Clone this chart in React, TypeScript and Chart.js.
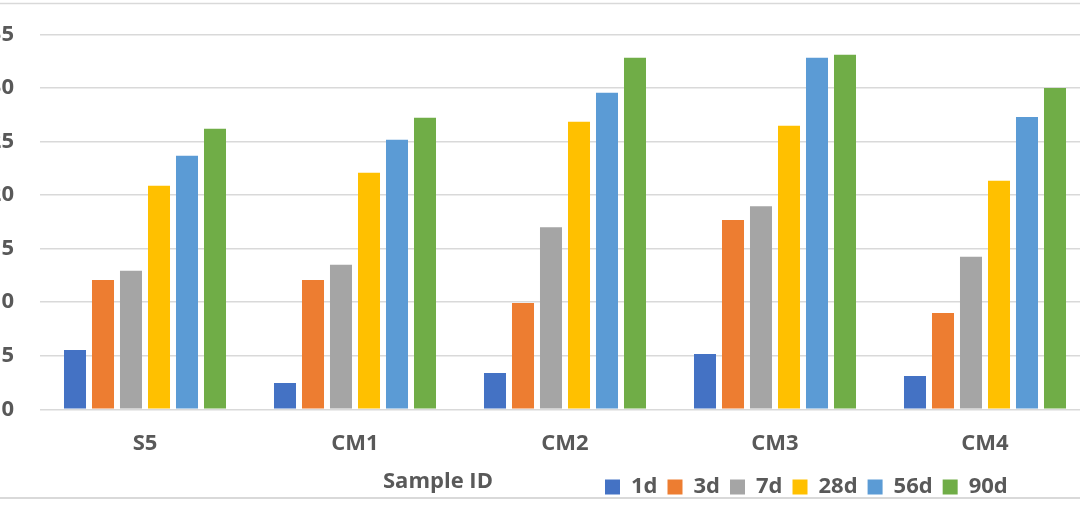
import React, { useEffect, useRef } from "react";
import { Chart, registerables } from "chart.js";

Chart.register(...registerables);

// Compressive strength by sample and curing age
const samples = ["S5", "CM1", "CM2", "CM3", "CM4"];
const ages = ["1d", "3d", "7d", "28d", "56d", "90d"];
const strength1d = [5.54, 2.46, 3.39, 5.17, 3.11];
const strength3d = [12.08, 12.08, 9.93, 17.67, 9.0];
const strength7d = [12.93, 13.49, 17.0, 18.96, 14.24];
const strength28d = [20.87, 22.08, 26.85, 26.47, 21.34];
const strength56d = [23.67, 25.17, 29.56, 32.83, 27.3];
const strength90d = [26.2, 27.23, 32.83, 33.11, 30.0];
const ageColors = ["#4472C4", "#ED7D31", "#A5A5A5", "#FFC000", "#5B9BD5", "#70AD47"];
const yMin = 0;
const yMax = 35;
const yStep = 5;
const xTitle = "Sample ID";

const FONT_FAMILY = "'Open Sans'";
const FONT_SIZE = 22;
const TEXT_COLOR = "#595959";
const GRID_COLOR = "#d9d9d9";

const CANVAS_W = 1116;
const CANVAS_H = 516;
const CANVAS_SHIFT = 26;

const frameAndTitle = {
  id: "frameAndTitle",
  afterLayout(chart: any) {
    const lg = chart.legend;
    if (lg) {
      const w = lg.width;
      const h = lg.height;
      lg.left = 621;
      lg.right = 621 + w;
      lg.top = 466;
      lg.bottom = 466 + h;
    }
  },
  beforeDraw(chart: any) {
    const { ctx, width } = chart;
    ctx.save();
    ctx.strokeStyle = GRID_COLOR;
    ctx.lineWidth = 1.5;
    ctx.beginPath();
    ctx.moveTo(0, 3.5);
    ctx.lineTo(width, 3.5);
    ctx.stroke();
    ctx.lineWidth = 2;
    ctx.beginPath();
    ctx.moveTo(0, 498);
    ctx.lineTo(width, 498);
    ctx.stroke();
    ctx.restore();
  },
  afterDraw(chart: any) {
    const { ctx, chartArea } = chart;
    ctx.save();
    ctx.font = `bold ${FONT_SIZE}px ${FONT_FAMILY}`;
    ctx.fillStyle = TEXT_COLOR;
    ctx.textAlign = "left";
    ctx.textBaseline = "alphabetic";
    ctx.fillText(xTitle, chartArea.left + 343, 488);
    ctx.restore();
  },
};

export default function App() {
  const canvasRef = useRef<HTMLCanvasElement | null>(null);

  useEffect(() => {
    const canvas = canvasRef.current;
    if (!canvas) return;
    const series = [strength1d, strength3d, strength7d, strength28d, strength56d, strength90d];
    const font = { family: FONT_FAMILY, size: FONT_SIZE, weight: "bold" as const };
    const chart = new Chart(canvas, {
      type: "bar",
      data: {
        labels: samples,
        datasets: ages.map((age, i) => ({
          label: age,
          data: series[i],
          backgroundColor: ageColors[i],
          borderWidth: 0,
          categoryPercentage: 0.8,
          barPercentage: 0.786,
        })),
      },
      options: {
        responsive: false,
        animation: false,
        devicePixelRatio: 1,
        layout: { padding: { top: 34.5, left: 0, right: 0, bottom: 0 } },
        plugins: {
          tooltip: { enabled: false },
          legend: {
            position: "bottom",
            align: "start",
            labels: {
              boxWidth: 15,
              boxHeight: 15,
              padding: 10,
              color: TEXT_COLOR,
              font,
            },
          },
        },
        scales: {
          x: {
            grid: { display: false },
            border: { display: false },
            ticks: {
              color: TEXT_COLOR,
              padding: 13,
              font,
            },
            afterFit: (scale: any) => {
              scale.height = 64.7;
            },
          },
          y: {
            min: yMin,
            max: yMax,
            border: { display: false },
            grid: { color: GRID_COLOR, lineWidth: 1.5, drawTicks: false },
            ticks: {
              stepSize: yStep,
              color: TEXT_COLOR,
              padding: 26,
              font,
            },
            afterFit: (scale: any) => {
              scale.width = 66;
              scale.paddingTop = 0;
              scale.paddingBottom = 0;
            },
          },
        },
      },
      plugins: [frameAndTitle],
    });
    return () => chart.destroy();
  }, []);

  return (
    <div
      style={{
        position: "absolute",
        left: 0,
        top: 0,
        width: 1080,
        height: 516,
        overflow: "hidden",
        background: "#ffffff",
      }}
    >
      <canvas
        ref={canvasRef}
        width={CANVAS_W}
        height={CANVAS_H}
        style={{ position: "absolute", left: -CANVAS_SHIFT, top: 0, width: CANVAS_W, height: CANVAS_H }}
      />
    </div>
  );
}
